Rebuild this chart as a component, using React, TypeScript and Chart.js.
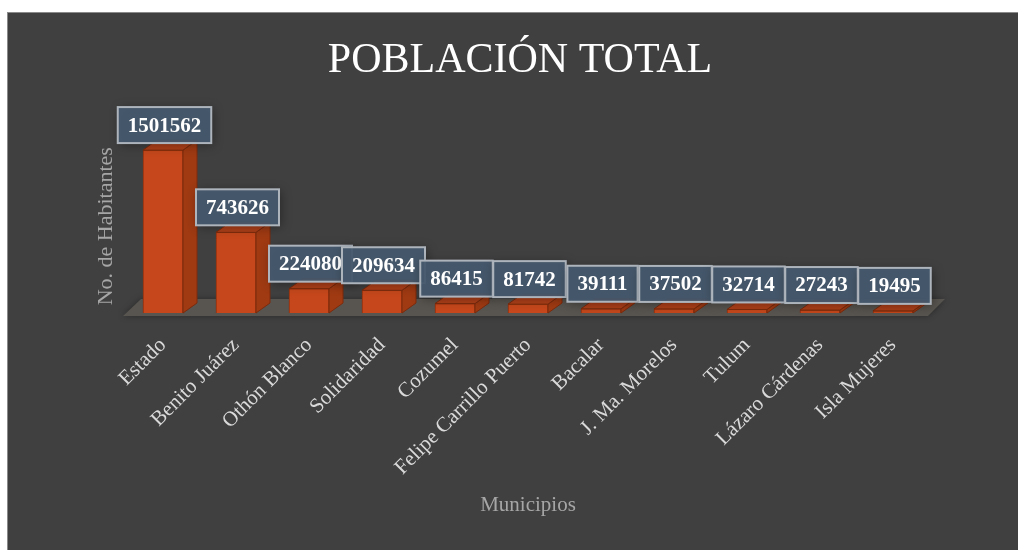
import React, { useEffect, useRef } from "react";
import { Chart, registerables } from "chart.js";

Chart.register(...registerables);

const municipios = [
  "Estado",
  "Benito Juárez",
  "Othón Blanco",
  "Solidaridad",
  "Cozumel",
  "Felipe Carrillo Puerto",
  "Bacalar",
  "J. Ma. Morelos",
  "Tulum",
  "Lázaro Cárdenas",
  "Isla Mujeres",
];
const poblacion = [1501562, 743626, 224080, 209634, 86415, 81742, 39111, 37502, 32714, 27243, 19495];
const chartTitle = "POBLACIÓN TOTAL";
const yAxisTitle = "No. de Habitantes";
const xAxisTitle = "Municipios";
const yMax = 1600000;

const FONT = "'Liberation Serif', 'Times New Roman', serif";
const DX = 14;
const DY = 10;

const bar3dPlugin = {
  id: "bar3d",
  beforeDatasetsDraw(chart: any) {
    const { ctx, chartArea: a } = chart;
    ctx.save();
    ctx.shadowColor = "rgba(0,0,0,0.35)";
    ctx.shadowBlur = 6;
    ctx.fillStyle = "#58544f";
    ctx.beginPath();
    ctx.moveTo(a.left - 3.5, a.bottom + 3);
    ctx.lineTo(a.right - 1.5, a.bottom + 3);
    ctx.lineTo(a.right + 15.5, a.bottom - 14);
    ctx.lineTo(a.left + 14.5, a.bottom - 14);
    ctx.closePath();
    ctx.fill();
    ctx.restore();
  },
  afterDatasetsDraw(chart: any) {
    const { ctx } = chart;
    const meta = chart.getDatasetMeta(0);
    const values = chart.data.datasets[0].data as number[];
    ctx.save();
    meta.data.forEach((bar: any) => {
      const { x, y, base, width } = bar.getProps(["x", "y", "base", "width"], true);
      const l = x - width / 2;
      const r = x + width / 2;
      // side face
      ctx.beginPath();
      ctx.moveTo(r, y);
      ctx.lineTo(r + DX, y - DY);
      ctx.lineTo(r + DX, base - DY);
      ctx.lineTo(r, base);
      ctx.closePath();
      ctx.fillStyle = "#9f3a13";
      ctx.fill();
      ctx.strokeStyle = "#7c2b0c";
      ctx.lineWidth = 1;
      ctx.stroke();
      // top face
      ctx.beginPath();
      ctx.moveTo(l, y);
      ctx.lineTo(l + DX, y - DY);
      ctx.lineTo(r + DX, y - DY);
      ctx.lineTo(r, y);
      ctx.closePath();
      ctx.fillStyle = "#b0401a";
      ctx.fill();
      ctx.stroke();
    });
    // data labels
    ctx.font = `bold 21px ${FONT}`;
    ctx.textAlign = "center";
    ctx.textBaseline = "middle";
    meta.data.forEach((bar: any, i: number) => {
      const { x, y } = bar.getProps(["x", "y"], true);
      const text = String(values[i]);
      const tw = ctx.measureText(text).width;
      const w = tw + 20;
      const h = 36;
      const cx = x + 1.5;
      const bottom = y - 7;
      const top = bottom - h;
      ctx.save();
      ctx.shadowColor = "rgba(0,0,0,0.4)";
      ctx.shadowBlur = 10;
      ctx.shadowOffsetX = 2;
      ctx.shadowOffsetY = 2;
      ctx.fillStyle = "rgba(70,89,110,0.93)";
      ctx.fillRect(cx - w / 2, top, w, h);
      ctx.restore();
      ctx.strokeStyle = "#adb4bc";
      ctx.lineWidth = 2;
      ctx.strokeRect(cx - w / 2, top, w, h);
      ctx.fillStyle = "#ffffff";
      ctx.fillText(text, cx, top + h / 2 + 1);
    });
    ctx.restore();
  },
};

export default function App() {
  const canvasRef = useRef<HTMLCanvasElement | null>(null);

  useEffect(() => {
    const canvas = canvasRef.current;
    if (!canvas) return;
    const chart = new Chart(canvas, {
      type: "bar",
      data: {
        labels: municipios,
        datasets: [
          {
            label: chartTitle,
            data: poblacion,
            backgroundColor: "#c5471b",
            borderColor: "#8a300e",
            borderWidth: 1,
            barThickness: 40,
          },
        ],
      },
      options: {
        animation: false,
        responsive: false,
        maintainAspectRatio: false,
        layout: { padding: { left: 102.5, right: 102.5, top: 0, bottom: 0 } },
        plugins: {
          legend: { display: false },
          tooltip: { enabled: false },
          title: {
            display: true,
            text: chartTitle,
            color: "#ffffff",
            font: { family: FONT, size: 42, weight: "normal" },
            padding: { top: 23, bottom: 53 },
          },
        },
        scales: {
          x: {
            grid: { display: false },
            border: { display: false },
            ticks: {
              color: "#d9d9d9",
              font: { family: FONT, size: 21 },
              maxRotation: 45,
              minRotation: 45,
              padding: 12,
            },
            title: {
              display: true,
              text: xAxisTitle,
              color: "#a6a6a6",
              font: { family: FONT, size: 21 },
              padding: { top: 4, bottom: 32 },
            },
            afterFit: (s: any) => {
              s.height = 237;
            },
          },
          y: {
            min: 0,
            max: yMax,
            grid: { display: false },
            border: { display: false },
            ticks: { display: false },
            title: {
              display: true,
              text: yAxisTitle,
              color: "#a6a6a6",
              font: { family: FONT, size: 22 },
              padding: { top: -17.7, bottom: 0 },
            },
            afterFit: (s: any) => {
              s.width = 16;
            },
          },
        },
      },
      plugins: [bar3dPlugin],
    } as any);
    return () => chart.destroy();
  }, []);

  return (
    <div
      style={{
        position: "fixed",
        left: 0,
        top: 0,
        width: 1018,
        height: 550,
        overflow: "hidden",
        background: "#ffffff",
      }}
    >
      <div
        style={{
          position: "absolute",
          left: 7,
          top: 12,
          width: 1040,
          height: 560,
          background: "#404040",
          borderLeft: "1px solid #8a8a8a",
          borderTop: "1px solid #8a8a8a",
        }}
      >
        <canvas
          ref={canvasRef}
          width={1024}
          height={537}
          style={{ display: "block", width: 1024, height: 537 }}
        />
      </div>
    </div>
  );
}
